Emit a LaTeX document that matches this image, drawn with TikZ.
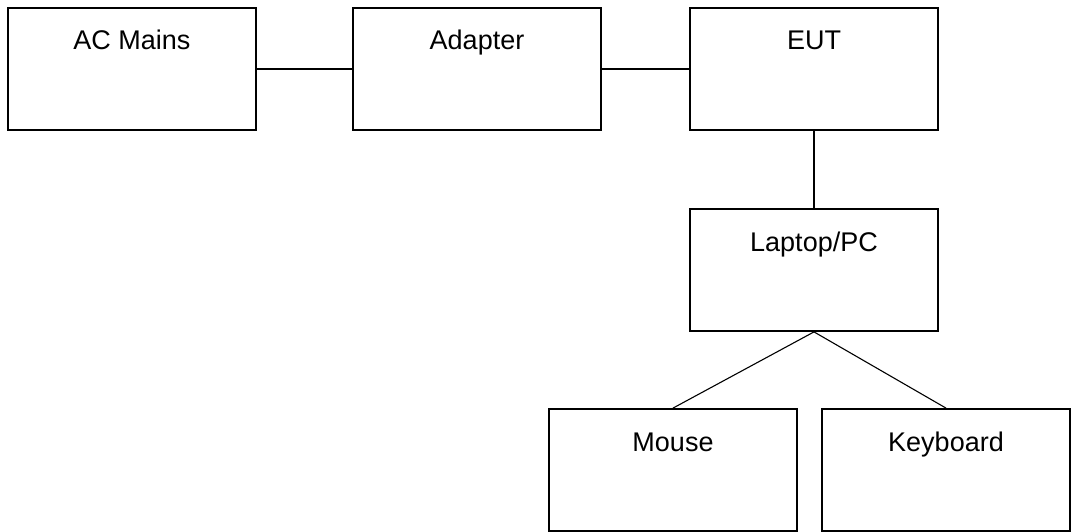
\documentclass[tikz,border=0pt]{standalone}
\usepackage{fontspec}
\setmainfont{Liberation Sans}
\begin{document}
\begin{tikzpicture}[x=1pt,y=-1pt,
  unit/.style={draw,line width=1.8pt,minimum width=248pt,minimum height=122pt,
    inner ysep=0pt,text height=42pt,text depth=80pt,font=\fontsize{27}{32}\selectfont}]
\useasboundingbox (0,0) rectangle (1076,532);
\node[unit] (ac) at (132,69) {AC Mains};
\node[unit] (adapter) at (477,69) {Adapter};
\node[unit] (eut) at (814,69) {EUT};
\node[unit] (pc) at (814,270) {Laptop/PC};
\node[unit] (mouse) at (673,470) {Mouse};
\node[unit] (keyboard) at (946,470) {Keyboard};

\draw[line width=1.1pt] (ac) -- (adapter);
\draw[line width=1.1pt] (adapter) -- (eut);
\draw[line width=1.1pt] (eut) -- (pc);
\draw[line width=1.1pt] (pc.south) -- (mouse.north);
\draw[line width=1.1pt] (pc.south) -- (keyboard.north);
\end{tikzpicture}
\end{document}
